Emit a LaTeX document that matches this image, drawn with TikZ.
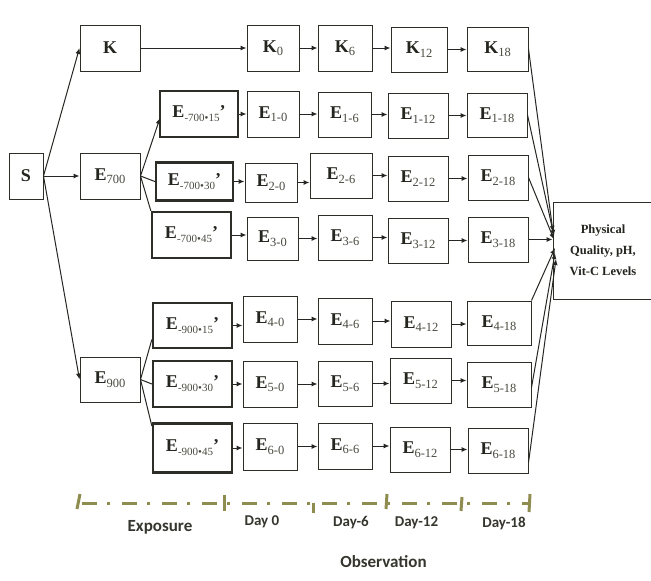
\documentclass[tikz,border=0pt]{standalone}
\usepackage{fontspec}
\setmainfont{Liberation Serif}
\newfontfamily\carl{Carlito}
\usetikzlibrary{arrows.meta,calc}
\definecolor{boxc}{HTML}{2E2E28}
\definecolor{linec}{HTML}{262622}
\definecolor{txtc}{HTML}{25251F}
\definecolor{subc}{HTML}{4A4A40}
\definecolor{tlc}{HTML}{8F8C50}
\definecolor{lblc}{HTML}{36362E}
\newcommand\sbs[1]{\raisebox{-3.5pt}{\mdseries\fontsize{12.5}{12.5}\selectfont\color{subc}#1}}
\newcommand\xsb[1]{\raisebox{-4pt}{\mdseries\fontsize{11}{11}\selectfont\color{subc}#1}}
\begin{document}
\begin{tikzpicture}[x=1pt,y=-1pt,
 bx/.style={draw=boxc, line width=1pt, inner sep=0pt, font=\bfseries\fontsize{18}{18}\selectfont, text=txtc},
 tbx/.style={bx, line width=2.3pt},
 arr/.style={draw=linec, line width=1pt, -{Latex[length=6pt,width=5pt]}},
 ln/.style={draw=linec, line width=1pt},
 tline/.style={draw=tlc, line width=3pt, dash pattern=on 15pt off 10pt on 3pt off 12pt},
 tickm/.style={draw=tlc, line width=3pt},
 lbl/.style={font=\carl\bfseries\fontsize{15}{15}\selectfont, text=lblc, inner sep=0pt},
 lblb/.style={font=\carl\bfseries\fontsize{17}{17}\selectfont, text=lblc, inner sep=0pt}
]
\fill[white] (0,0) rectangle (651,581);
\useasboundingbox (0,0) rectangle (651,581);
\clip (0,0) rectangle (651,581);

% first columns
\node[bx, minimum width=34pt, minimum height=46pt] (S) at (26,176) {S};
\node[bx, minimum width=60pt, minimum height=46pt] (K) at (110,48) {K};
\node[bx, minimum width=60pt, minimum height=46pt] (E700) at (110,176) {E\sbs{700}};
\node[bx, minimum width=60pt, minimum height=45pt] (E900) at (110,379.5) {E\sbs{900}};

% exposure boxes
\node[tbx, minimum width=78pt, minimum height=46pt] (X1) at (199,114) {E\xsb{-700•15}’};
\node[tbx, minimum width=77pt, minimum height=38pt] (X2) at (194.5,181.5) {E\xsb{-700•30}’};
\node[tbx, minimum width=79pt, minimum height=46pt] (X3) at (191.5,235) {E\xsb{-700•45}’};
\node[tbx, minimum width=79pt, minimum height=45pt] (X4) at (192.5,325.5) {E\xsb{-900•15}’};
\node[tbx, minimum width=79pt, minimum height=46pt] (X5) at (192.5,384) {E\xsb{-900•30}’};
\node[tbx, minimum width=79pt, minimum height=49pt] (X6) at (192.5,448) {E\xsb{-900•45}’};

% day 0
\node[bx, minimum width=52pt, minimum height=46pt] (K0) at (273,48) {K\sbs{0}};
\node[bx, minimum width=52pt, minimum height=46pt] (E10) at (273,114) {E\sbs{1-0}};
\node[bx, minimum width=52pt, minimum height=39pt] (E20) at (271,182.5) {E\sbs{2-0}};
\node[bx, minimum width=51pt, minimum height=43pt] (E30) at (272.5,238.5) {E\sbs{3-0}};
\node[bx, minimum width=54pt, minimum height=46pt] (E40) at (270,319) {E\sbs{4-0}};
\node[bx, minimum width=54pt, minimum height=46pt] (E50) at (270,384) {E\sbs{5-0}};
\node[bx, minimum width=54pt, minimum height=47pt] (E60) at (270,446.5) {E\sbs{6-0}};

% day 6
\node[bx, minimum width=54pt, minimum height=46pt] (K6) at (345,48) {K\sbs{6}};
\node[bx, minimum width=53pt, minimum height=45pt] (E16) at (344.5,114.5) {E\sbs{1-6}};
\node[bx, minimum width=62pt, minimum height=45pt] (E26) at (341,175.5) {E\sbs{2-6}};
\node[bx, minimum width=54pt, minimum height=45pt] (E36) at (345,237.5) {E\sbs{3-6}};
\node[bx, minimum width=54pt, minimum height=46pt] (E46) at (345,321) {E\sbs{4-6}};
\node[bx, minimum width=54pt, minimum height=45pt] (E56) at (345,383.5) {E\sbs{5-6}};
\node[bx, minimum width=54pt, minimum height=46pt] (E66) at (345,446) {E\sbs{6-6}};

% day 12
\node[bx, minimum width=56pt, minimum height=45pt] (K12) at (419,49.5) {K\sbs{12}};
\node[bx, minimum width=60pt, minimum height=45pt] (E112) at (418,115.5) {E\sbs{1-12}};
\node[bx, minimum width=60pt, minimum height=45pt] (E212) at (418,178.5) {E\sbs{2-12}};
\node[bx, minimum width=60pt, minimum height=45pt] (E312) at (418,240.5) {E\sbs{3-12}};
\node[bx, minimum width=60pt, minimum height=46pt] (E412) at (421,324) {E\sbs{4-12}};
\node[bx, minimum width=61pt, minimum height=45pt] (E512) at (420.5,380.5) {E\sbs{5-12}};
\node[bx, minimum width=60pt, minimum height=45pt] (E612) at (420,449.5) {E\sbs{6-12}};

% day 18
\node[bx, minimum width=61pt, minimum height=44pt] (K18) at (497.5,49) {K\sbs{18}};
\node[bx, minimum width=60pt, minimum height=44pt] (E118) at (497,115) {E\sbs{1-18}};
\node[bx, minimum width=60pt, minimum height=45pt] (E218) at (498,177.5) {E\sbs{2-18}};
\node[bx, minimum width=60pt, minimum height=45pt] (E318) at (498,239.5) {E\sbs{3-18}};
\node[bx, minimum width=64pt, minimum height=44pt] (E418) at (499,323) {E\sbs{4-18}};
\node[bx, minimum width=64pt, minimum height=45pt] (E518) at (499,384.5) {E\sbs{5-18}};
\node[bx, minimum width=60pt, minimum height=45pt] (E618) at (498,450.5) {E\sbs{6-18}};

% output
\node[bx, minimum width=100pt, minimum height=97pt, align=center,
      font=\bfseries\fontsize{12.5}{21}\selectfont] (out) at (603,250.5)
      {Physical\\Quality, pH,\\Vit-C Levels};

% S connectors
\draw[arr] (S.east) -- (K.west);
\draw[arr] (S.east) -- (E700.west);
\draw[arr] (S.east) -- (E900.west);
\draw[arr] (K.east) -- (K0.west);

% E700 / E900 branches
\coordinate (x1in) at (160,118);
\draw[arr] (E700.east) -- (x1in);
\draw[ln] (E700.east) -- (X2.west);
\draw[ln] (E700.east) -- (X3.north west);
\draw[ln] (E900.east) -- ($(X4.west)+(0,14)$);
\draw[ln] (E900.east) -- (X5.west);
\draw[ln] (E900.east) -- ($(X6.west)+(0,-22)$);

% horizontal chains
\foreach \a/\b in {X1/E10,X2/E20,X3/E30,X4/E40,X5/E50,X6/E60,
  K0/K6,E10/E16,E20/E26,E30/E36,E40/E46,E50/E56,E60/E66,
  K6/K12,E16/E112,E26/E212,E36/E312,E46/E412,E56/E512,E66/E612,
  K12/K18,E112/E118,E212/E218,E312/E318,E412/E418,E512/E518,E612/E618}
  \draw[arr] (\a.east) -- (\b.west |- \a.east);

% to output
\coordinate (o1) at (553,232);
\coordinate (o2) at (554,236);
\coordinate (o3) at (554,239.5);
\coordinate (o5) at (555,248);
\coordinate (o6) at (555,253);
\coordinate (o7) at (556,259);
\draw[arr] (K18.east) -- (o1);
\draw[arr] (E118.east) -- (o2);
\draw[arr] (E218.east) -- (o3);
\draw[arr] (E318.east) -- (out.west |- E318.east);
\draw[arr] (E418.north east) -- (o5);
\draw[arr] ($(E518.east)+(0,3)$) -- (o6);
\draw[arr] ($(E618.east)+(0,12)$) -- (o7);

% timeline
\draw[tline] (82,503) -- (530,503);
\draw[tickm] (77,509) -- (80,494);
\draw[tickm] (224,495) -- (224,511);
\draw[tickm] (313,503) -- (313,513);
\draw[tickm] (387,494) -- (386,509);
\draw[tickm] (462,497) -- (461,511);
\draw[tickm] (530,494) -- (529,512);

\node[lblb] (exp) at (160,527) {Exposure};
\node[lbl] (d0) at (262,522) {Day 0};
\node[lbl] (d6) at (351,523) {Day-6};
\node[lbl] (d12) at (416.5,523) {Day-12};
\node[lbl] (d18) at (504,523) {Day-18};
\node[lblb] (obs) at (383.5,562) {Observation};
\end{tikzpicture}
\end{document}
